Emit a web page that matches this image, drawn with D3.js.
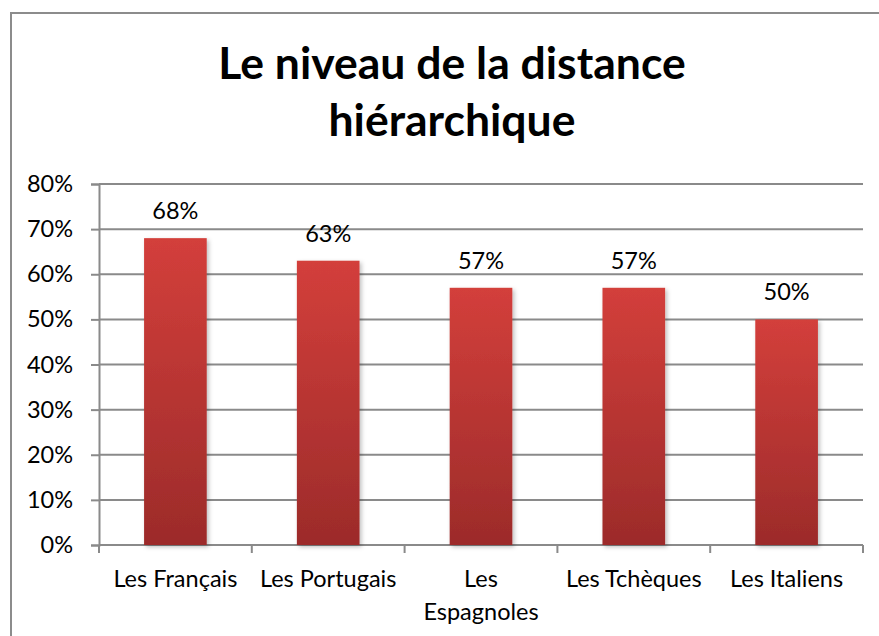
<!DOCTYPE html>
<html>
<head>
<meta charset="utf-8">
<script src="https://cdn.jsdelivr.net/npm/d3@7"></script>
<style>
  html, body { margin: 0; padding: 0; background: #fff; }
  svg { display: block; font-family: Lato, "Open Sans", sans-serif; }
</style>
</head>
<body>
<svg id="chart" width="879" height="636"></svg>
<script>
const titleLines = ["Le niveau de la distance", "hiérarchique"];
const categories = ["Les Français", "Les Portugais", "Les Espagnoles", "Les Tchèques", "Les Italiens"];
const categoryLines = [["Les Français"], ["Les Portugais"], ["Les", "Espagnoles"], ["Les Tchèques"], ["Les Italiens"]];
const values = [0.68, 0.63, 0.57, 0.57, 0.50];
const valueLabels = ["68%", "63%", "57%", "57%", "50%"];
const yTicks = [0, 0.1, 0.2, 0.3, 0.4, 0.5, 0.6, 0.7, 0.8];
const yTickLabels = ["0%", "10%", "20%", "30%", "40%", "50%", "60%", "70%", "80%"];

const svg = d3.select("#chart");
const plot = { left: 99, right: 863, top: 184, bottom: 545 };
const gridColor = "#8a8a8a";
const fs = 23.5;

// outer border
svg.append("rect")
  .attr("x", 11).attr("y", 13).attr("width", 900).attr("height", 700)
  .attr("fill", "#fff").attr("stroke", "#8c8c8c").attr("stroke-width", 2);

// gradient + shadow
const defs = svg.append("defs");
const grad = defs.append("linearGradient").attr("id", "barGrad")
  .attr("x1", 0).attr("y1", 0).attr("x2", 0).attr("y2", 1);
grad.append("stop").attr("offset", "0%").attr("stop-color", "#d33f3b");
grad.append("stop").attr("offset", "100%").attr("stop-color", "#9c2b2a");
const f = defs.append("filter").attr("id", "shadow").attr("x", "-20%").attr("y", "-20%").attr("width", "140%").attr("height", "140%");
f.append("feDropShadow").attr("dx", 2).attr("dy", 2).attr("stdDeviation", 2)
  .attr("flood-color", "#000").attr("flood-opacity", 0.25);

// title
svg.append("g").selectAll("text").data(titleLines).join("text")
  .attr("x", 452).attr("y", (d, i) => 79 + i * 57)
  .attr("text-anchor", "middle")
  .attr("font-weight", "bold").attr("font-size", 44.5)
  .attr("fill", "#000").text(d => d);

const y = d3.scaleLinear().domain([0, 0.8]).range([plot.bottom, plot.top]);
const x = d3.scaleBand().domain(categories).range([plot.left, plot.right]).padding(0);
const barFrac = 0.41;

// gridlines
svg.append("g").selectAll("line").data(yTicks).join("line")
  .attr("x1", plot.left).attr("x2", plot.right)
  .attr("y1", d => y(d)).attr("y2", d => y(d))
  .attr("stroke", gridColor).attr("stroke-width", 2);

// y axis
const yAxis = svg.append("g").attr("transform", `translate(${plot.left},0)`)
  .call(d3.axisLeft(y).tickValues(yTicks).tickFormat((d, i) => yTickLabels[i]).tickSize(8).tickPadding(18));
yAxis.selectAll("line").attr("stroke", gridColor).attr("stroke-width", 2);
yAxis.select(".domain").attr("stroke", gridColor).attr("stroke-width", 2);
yAxis.selectAll("text").attr("font-size", fs).attr("fill", "#000").attr("font-family", "Lato, sans-serif");

// x axis
const bounds = categories.map(c => x(c)).concat([plot.right]);
svg.append("g").selectAll("line").data(bounds).join("line")
  .attr("x1", d => d).attr("x2", d => d)
  .attr("y1", plot.bottom).attr("y2", plot.bottom + 8)
  .attr("stroke", gridColor).attr("stroke-width", 2);
svg.append("line").attr("x1", plot.left).attr("x2", plot.right)
  .attr("y1", plot.bottom).attr("y2", plot.bottom)
  .attr("stroke", gridColor).attr("stroke-width", 2);

// bars
const bw = x.bandwidth() * barFrac;
svg.append("g").selectAll("rect").data(values).join("rect")
  .attr("x", (d, i) => x(categories[i]) + (x.bandwidth() - bw) / 2)
  .attr("width", bw)
  .attr("y", d => y(d))
  .attr("height", d => y(0) - y(d))
  .attr("fill", "url(#barGrad)")
  .attr("filter", "url(#shadow)");

// value labels
svg.append("g").selectAll("text").data(values).join("text")
  .attr("x", (d, i) => x(categories[i]) + x.bandwidth() / 2)
  .attr("y", d => y(d) - 19)
  .attr("text-anchor", "middle").attr("font-size", fs).attr("fill", "#000")
  .text((d, i) => valueLabels[i]);

// category labels
const catG = svg.append("g").selectAll("text").data(categoryLines).join("text")
  .attr("text-anchor", "middle").attr("font-size", fs).attr("fill", "#000")
  .attr("x", (d, i) => x(categories[i]) + x.bandwidth() / 2)
  .attr("y", 587);
catG.selectAll("tspan").data(d => d).join("tspan")
  .attr("x", function() { return d3.select(this.parentNode).attr("x"); })
  .attr("dy", (d, i) => i === 0 ? 0 : 33)
  .text(d => d);
</script>
</body>
</html>
